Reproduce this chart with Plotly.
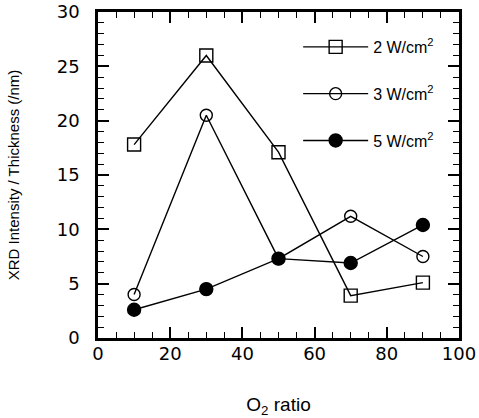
import plotly.graph_objects as go

o2_ratio = [10, 30, 50, 70, 90]
p2_values = [17.8, 26.0, 17.1, 3.9, 5.1]
p3_values = [4.0, 20.5, 7.3, 11.2, 7.5]
p5_values = [2.6, 4.5, 7.3, 6.9, 10.4]
series_names = ["2 W/cm<sup>2</sup>", "3 W/cm<sup>2</sup>", "5 W/cm<sup>2</sup>"]

fig = go.Figure()
styles = [
    dict(symbol="square-open", size=13),
    dict(symbol="circle-open", size=12),
    dict(symbol="circle", size=13),
]
for i, (name, vals, st) in enumerate(zip(series_names, [p2_values, p3_values, p5_values], styles)):
    fig.add_trace(go.Scatter(
        x=o2_ratio, y=vals, name=name, mode="lines+markers",
        legendgroup=f"g{i}",
        line=dict(color="black", width=1.4),
        marker=dict(symbol=st["symbol"], size=st["size"], color="black",
                    line=dict(color="black", width=1.4)),
    ))

axis_common = dict(
    showline=True, linecolor="black", linewidth=2.5, mirror="ticks",
    ticks="inside", ticklen=11, tickwidth=1.5, tickcolor="black",
    showgrid=False, zeroline=False, automargin=False,
    ticklabeloverflow="allow",
    tickfont=dict(family="DejaVu Sans", size=18, color="black"),
)
fig.update_xaxes(range=[0, 100], dtick=20, **axis_common, ticklabelstandoff=-2,
                 minor=dict(dtick=5, ticks="inside", ticklen=6, tickcolor="black", tickwidth=1.2),
                 title=dict(text="O<sub>2</sub> ratio", font=dict(family="Liberation Sans", size=19, color="black"),
                            standoff=35))
fig.update_yaxes(range=[0, 30], dtick=5, **axis_common, ticklabelstandoff=12,
                 minor=dict(dtick=1, ticks="inside", ticklen=6, tickcolor="black", tickwidth=1.2),
                 title=dict(text="XRD Intensity / Thickness (/nm)", font=dict(family="Liberation Sans", size=15, color="black"),
                            standoff=34))

fig.update_layout(
    width=479, height=418,
    margin=dict(l=98, r=20, t=12, b=80),
    plot_bgcolor="white", paper_bgcolor="white",
    showlegend=True,
    legend=dict(x=0.945, y=0.945, xanchor="right", yanchor="top",
                bgcolor="rgba(0,0,0,0)", tracegroupgap=23, itemwidth=65,
                font=dict(family="Liberation Sans", size=16, color="black")),
)

fig.write_html("out.html", config={"displayModeBar": False},
               post_script="document.body.style.margin='0';")
